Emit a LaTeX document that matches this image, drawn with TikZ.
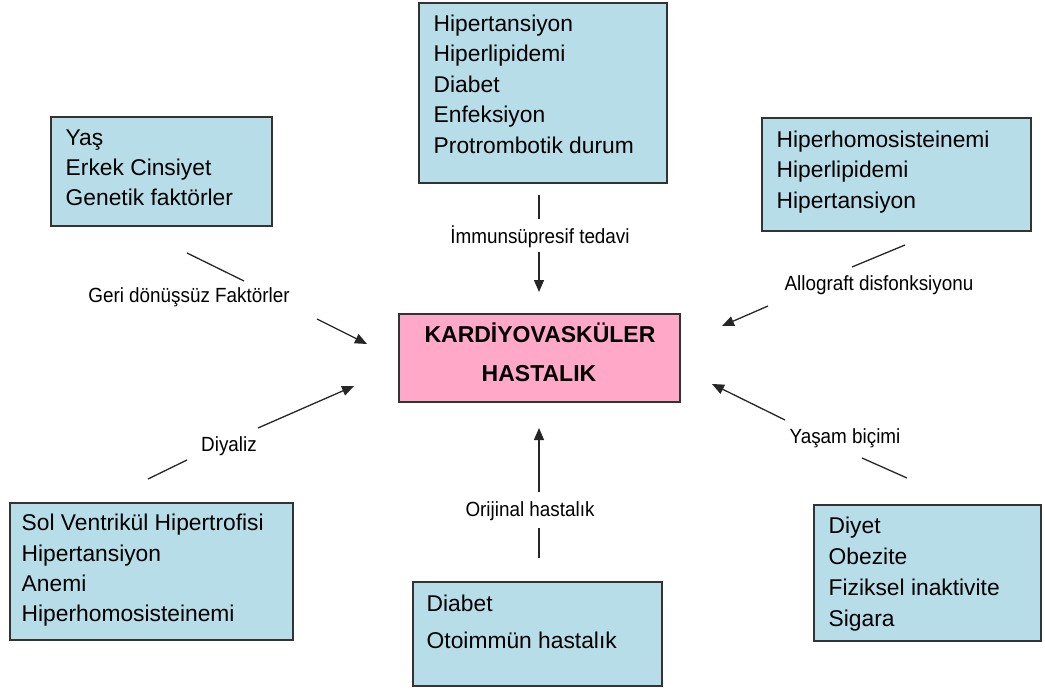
\documentclass[tikz,border=0pt]{standalone}
\usepackage{fontspec}
\setmainfont{Liberation Sans}
\newfontfamily\labfont[FakeStretch=0.92]{Liberation Sans}
\usetikzlibrary{arrows.meta,calc}
\definecolor{boxblue}{HTML}{B7DDE8}
\definecolor{boxpink}{HTML}{FFA8C8}
\definecolor{edgegray}{HTML}{333333}
\begin{document}
\begin{tikzpicture}[x=1pt,y=-1pt,
  box/.style={draw=edgegray, line width=1.3pt, fill=boxblue, inner sep=0pt, outer sep=0pt, anchor=north west},
  pinkbox/.style={box, fill=boxpink},
  btxt/.style={anchor=north west, inner sep=0pt, align=left, font=\fontsize{22.8}{30.5}\selectfont},
  ctxt/.style={anchor=base, inner sep=0pt, font=\bfseries\fontsize{23}{26}\selectfont},
  lab/.style={inner sep=0pt, font=\labfont\fontsize{20.5}{24}\selectfont},
  seg/.style={line width=1.3pt, draw=black!85},
  arr/.style={seg, -{Triangle[length=12pt,width=10pt]}}]
\useasboundingbox (0,0) rectangle (1045,690);

% boxes
\node[box, minimum width=248pt, minimum height=180pt] (top) at (419,3) {};
\node[box, minimum width=221pt, minimum height=109pt] (tl) at (51,117) {};
\node[box, minimum width=269pt, minimum height=113pt] (tr) at (762,118) {};
\node[box, minimum width=283pt, minimum height=137pt] (bl) at (10,503) {};
\node[box, minimum width=227pt, minimum height=136pt] (br) at (814,505) {};
\node[box, minimum width=249pt, minimum height=104pt] (bc) at (413,582) {};
\node[pinkbox, minimum width=281pt, minimum height=88pt] (kvh) at (399,314) {};

% box texts
\node[btxt] (top-t) at (433.5,14.5) {Hipertansiyon\\Hiperlipidemi\\Diabet\\Enfeksiyon\\Protrombotik durum};
\node[btxt, font=\fontsize{22.8}{30}\selectfont] (tl-t) at (65.5,129.5) {Yaş\\Erkek Cinsiyet\\Genetik faktörler};
\node[btxt] (tr-t) at (776.5,130.5) {Hiperhomosisteinemi\\Hiperlipidemi\\Hipertansiyon};
\node[btxt, font=\fontsize{22.8}{30.3}\selectfont] (bl-t) at (21.5,514) {Sol Ventrikül Hipertrofisi\\Hipertansiyon\\Anemi\\Hiperhomosisteinemi};
\node[btxt, font=\fontsize{22.8}{31}\selectfont] (br-t) at (828.5,516.5) {Diyet\\Obezite\\Fiziksel inaktivite\\Sigara};
\node[btxt, font=\fontsize{22.8}{37}\selectfont] (bc-t) at (426.5,595) {Diabet\\Otoimmün hastalık};
\node[ctxt] (kvh-1) at (540,342) {KARDİYOVASKÜLER};
\node[ctxt] (kvh-2) at (539,381) {HASTALIK};

% labels
\node[lab] (l-top) at (540,237) {İmmunsüpresif tedavi};
\node[lab] (l-tl) at (189,297) {Geri dönüşsüz Faktörler};
\node[lab] (l-tr) at (879,285) {Allograft disfonksiyonu};
\node[lab] (l-bl) at (229,446) {Diyaliz};
\node[lab] (l-br) at (845,438) {Yaşam biçimi};
\node[lab] (l-bc) at (530,511) {Orijinal hastalık};

% connector coordinates
\coordinate (a1) at (539,195);
\coordinate (a2) at (539,219);
\coordinate (a3) at (539,252);
\coordinate (a4) at (539,292);
\coordinate (b1) at (187,253);
\coordinate (b2) at (244,281);
\coordinate (b3) at (317,319);
\coordinate (b4) at (367,344);
\coordinate (c1) at (852,267);
\coordinate (c2) at (905,245);
\coordinate (c3) at (768,306);
\coordinate (c4) at (722,326);
\coordinate (d1) at (148,479);
\coordinate (d2) at (187,460);
\coordinate (d3) at (258,428);
\coordinate (d4) at (354,386);
\coordinate (e1) at (907,478);
\coordinate (e2) at (862,458);
\coordinate (e3) at (785,420);
\coordinate (e4) at (712,384);
\coordinate (f1) at (539,558);
\coordinate (f2) at (539,528);
\coordinate (f3) at (539,492);
\coordinate (f4) at (539,428);

% connectors
\draw[seg] (a1) -- (a2);
\draw[arr] (a3) -- (a4);
\draw[seg] (b1) -- (b2);
\draw[arr] (b3) -- (b4);
\draw[seg] (c2) -- (c1);
\draw[arr] (c3) -- (c4);
\draw[seg] (d1) -- (d2);
\draw[arr] (d3) -- (d4);
\draw[seg] (e1) -- (e2);
\draw[arr] (e3) -- (e4);
\draw[seg] (f1) -- (f2);
\draw[arr] (f3) -- (f4);
\end{tikzpicture}
\end{document}
